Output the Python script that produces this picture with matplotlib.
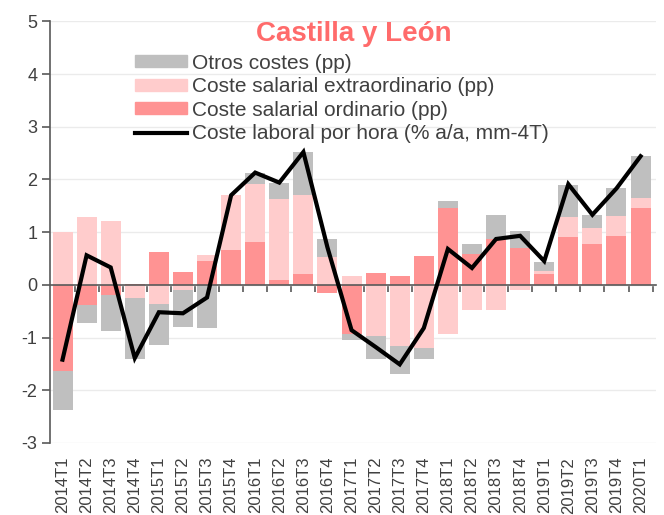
import matplotlib
matplotlib.use("Agg")
import matplotlib.pyplot as plt
import numpy as np
from matplotlib.patches import Patch
from matplotlib.lines import Line2D

plt.rcParams['font.family'] = ['Liberation Sans', 'DejaVu Sans']
plt.rcParams['axes.unicode_minus'] = False

# quarters
trimestres = ['2014T1', '2014T2', '2014T3', '2014T4', '2015T1', '2015T2', '2015T3', '2015T4',
              '2016T1', '2016T2', '2016T3', '2016T4', '2017T1', '2017T2', '2017T3', '2017T4',
              '2018T1', '2018T2', '2018T3', '2018T4', '2019T1', '2019T2', '2019T3', '2019T4',
              '2020T1']

# contributions (pp)
ordinario = [-1.63, -0.39, -0.20, 0.02, 0.63, 0.25, 0.45, 0.66, 0.82, 0.10, 0.20, -0.16, -0.93,
             0.23, 0.17, 0.55, 1.46, 0.59, 0.87, 0.70, 0.20, 0.90, 0.78, 0.92, 1.45]
extraordinario = [1.00, 1.28, 1.21, -0.25, -0.36, -0.09, 0.11, 1.04, 1.10, 1.52, 1.51, 0.52, 0.16,
                  -0.97, -1.16, -1.19, -0.94, -0.48, -0.48, -0.10, 0.06, 0.39, 0.30, 0.38, 0.19]
otros = [-0.75, -0.34, -0.68, -1.15, -0.78, -0.71, -0.82, 0.00, 0.20, 0.32, 0.81, 0.35, -0.11,
         -0.44, -0.54, -0.21, 0.14, 0.19, 0.46, 0.32, 0.18, 0.61, 0.25, 0.53, 0.80]

# labour cost per hour (% y/y, 4Q moving average)
coste_hora = [-1.42, 0.56, 0.33, -1.39, -0.52, -0.54, -0.24, 1.70, 2.13, 1.94, 2.52, 0.71, -0.86,
              -1.18, -1.51, -0.82, 0.68, 0.32, 0.87, 0.93, 0.45, 1.91, 1.33, 1.83, 2.44]

c_otros = '#BFBFBF'
c_extra = '#FFCCCC'
c_ord = '#FF9393'
c_texto = '#404040'

fig = plt.figure(figsize=(6.64, 5.15), dpi=100)
ax = fig.add_axes([0.0753, 0.140, 0.913, 0.8185])

x = np.arange(len(trimestres))
pos = np.zeros(len(x))
neg = np.zeros(len(x))
for serie, color in [(ordinario, c_ord), (extraordinario, c_extra), (otros, c_otros)]:
    v = np.array(serie)
    bottom = np.where(v >= 0, pos, neg)
    ax.bar(x, v, bottom=bottom, width=0.83, color=color, zorder=2)
    pos = pos + np.where(v >= 0, v, 0)
    neg = neg + np.where(v < 0, v, 0)

ax.plot(x, coste_hora, color='black', lw=3, zorder=3, solid_joinstyle='miter')

ax.set_ylim(-3, 5)
ax.set_xlim(-0.52, 24.65)
ax.set_yticks(range(-3, 6))
ax.yaxis.grid(True, color='#EBEBEB', lw=1, zorder=0)
ax.set_axisbelow(True)

for s in ['top', 'right']:
    ax.spines[s].set_visible(False)
ax.spines['left'].set_color('#595959')
ax.spines['left'].set_linewidth(1.2)
ax.spines['bottom'].set_position(('data', 0))
ax.spines['bottom'].set_color('#595959')
ax.spines['bottom'].set_linewidth(1.2)

ax.set_xticks(x + 0.5)
ax.set_xticklabels([])
ax.tick_params(axis='x', direction='out', length=5, color='#595959', width=1.2)
ax.tick_params(axis='y', direction='out', length=6, color='#595959', width=1.2,
               labelsize=13, labelcolor=c_texto, pad=3)

sec = ax.secondary_xaxis('bottom')
sec.set_xticks(x)
sec.set_xticklabels(trimestres, rotation=90, fontsize=12, color=c_texto, va='top')
sec.tick_params(length=0, pad=10)
sec.spines['bottom'].set_visible(False)

fig.text(0.533, 1 - 40.7 / 515, 'Castilla y León', color='#FF6B6B', fontsize=20,
         fontweight='bold', ha='center', va='baseline')

handles = [Patch(color=c_otros), Patch(color=c_extra), Patch(color=c_ord),
           Line2D([], [], color='black', lw=3)]
labels = ['Otros costes (pp)', 'Coste salarial extraordinario (pp)',
          'Coste salarial ordinario (pp)', 'Coste laboral por hora (% a/a, mm-4T)']
leg = fig.legend(handles, labels, loc='upper left', bbox_to_anchor=(0.203, 0.896),
                 frameon=False, fontsize=15, handlelength=2.5, handleheight=0.53,
                 handletextpad=0.25, labelspacing=0.22, borderpad=0, borderaxespad=0)
for t in leg.get_texts():
    t.set_color(c_texto)

fig.savefig('out.png', dpi=100)
